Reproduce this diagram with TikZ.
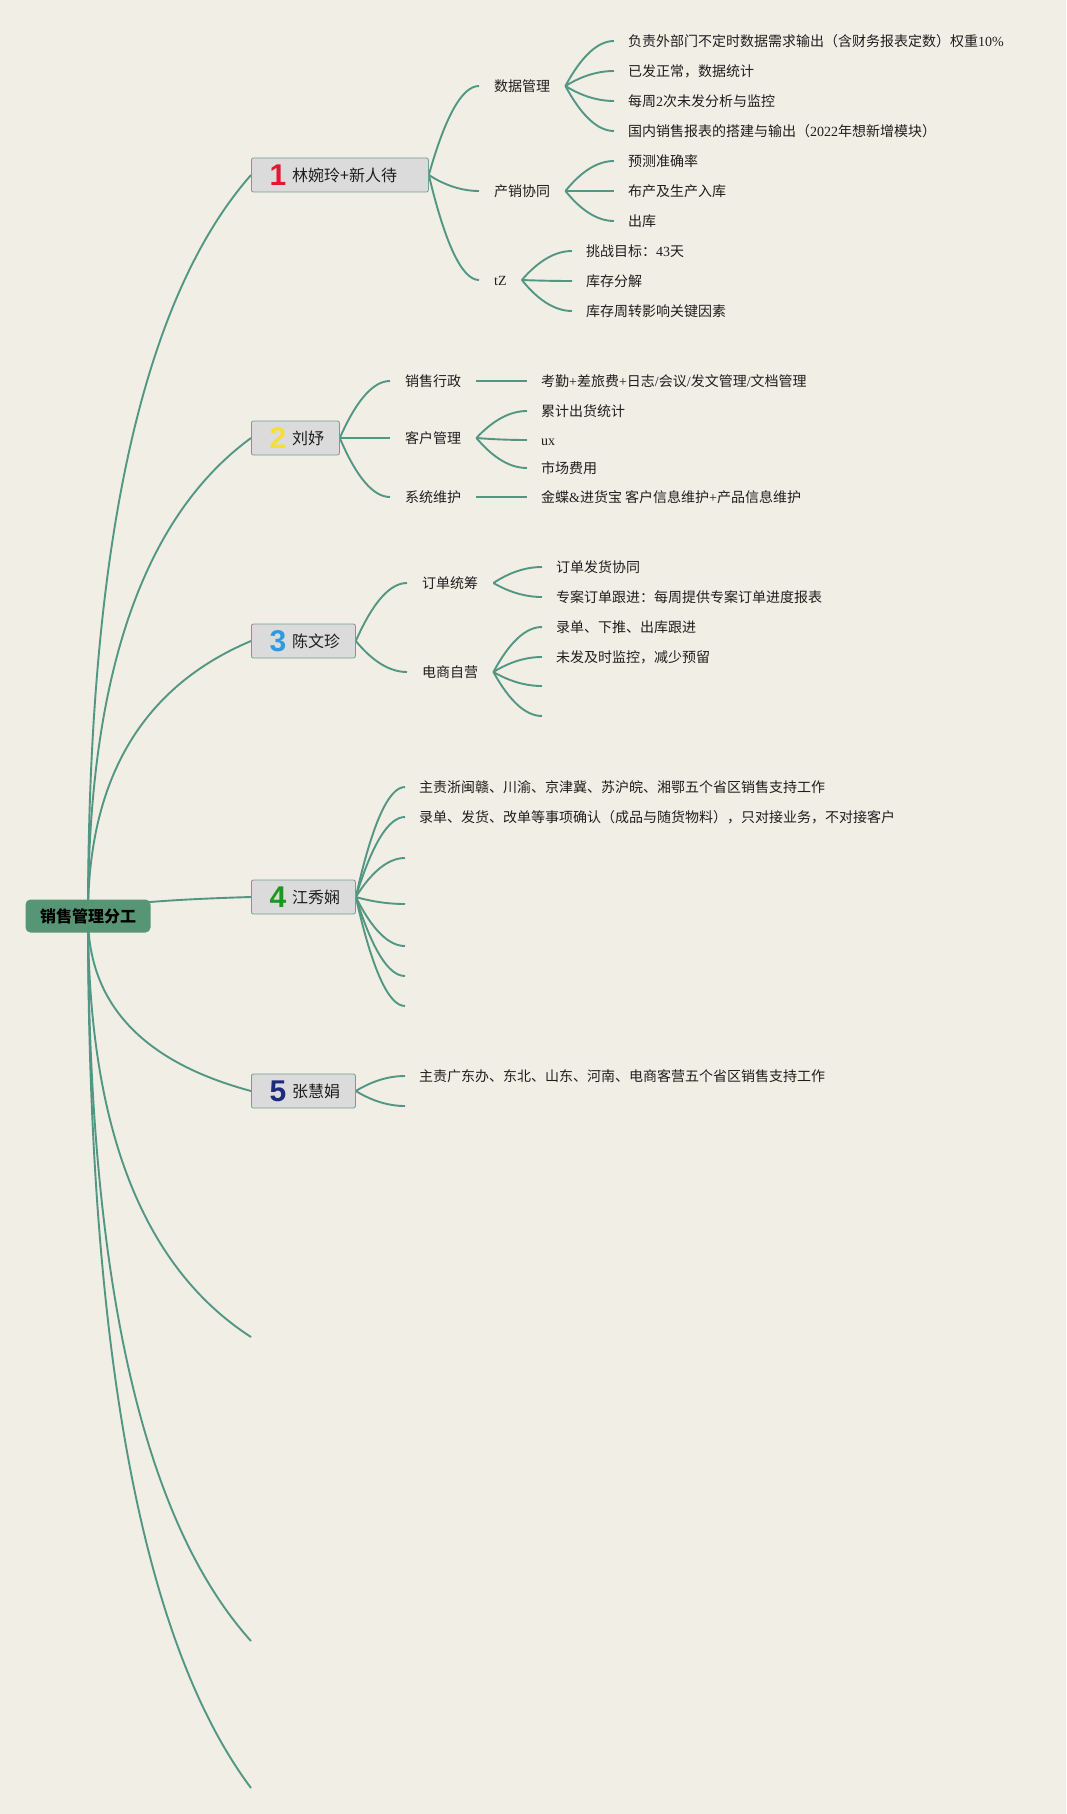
\documentclass[tikz,border=0pt]{standalone}
\usepackage{fontspec}
\setmainfont{Noto Sans CJK SC}
\newfontfamily\latf{Liberation Serif}
\newfontfamily\numff{Liberation Sans}
\usetikzlibrary{calc}
\definecolor{bgc}{RGB}{241,238,229}
\definecolor{lc}{RGB}{82,150,132}
\definecolor{rootc}{RGB}{86,150,116}
\definecolor{boxc}{RGB}{219,219,220}
\definecolor{boxb}{RGB}{112,160,144}
\definecolor{tc}{RGB}{30,30,30}
\definecolor{c1}{RGB}{226,24,48}
\definecolor{c2}{RGB}{244,222,62}
\definecolor{c3}{RGB}{45,155,224}
\definecolor{c4}{RGB}{28,152,34}
\definecolor{c5}{RGB}{30,42,126}
\pgfdeclarelayer{paper}
\pgfdeclarelayer{bg}
\pgfsetlayers{paper,bg,main}
\newcommand\lat[1]{{\latf #1}}
\newcommand\fs{\fontsize{14pt}{17pt}\selectfont}
\newcommand\fl{\fontsize{16pt}{19pt}\selectfont}
\newcommand\numfont{\numff\bfseries\fontsize{30pt}{30pt}\selectfont}
\newcommand\rbranch[2]{\draw[br] let \p1=(#1), \p2=(#2) in (\p1) .. controls (\x1,{\y1+0.5*(\y2-\y1)}) and ({\x2-0.667*(\x2-\x1)},{\y2+0.1667*(\y1-\y2)}) .. (\p2);}
\newcommand\sbranch[2]{\draw[br] let \p1=(#1), \p2=(#2) in (\p1) .. controls ({\x1+(\x2-\x1)/3},{\y1+0.667*(\y2-\y1)}) and ({\x2-(\x2-\x1)/3},\y2) .. (\p2);}
\tikzset{
  br/.style={draw=lc, line width=1.9pt},
  rootbox/.style={fill=rootc, rounded corners=5pt, minimum width=125pt, minimum height=33pt, inner sep=0pt, text=black, font=\fl\bfseries},
  lonebox/.style={fill=boxc, draw=boxb, line width=0.8pt, rounded corners=2pt, minimum height=34pt, inner sep=0pt, anchor=west},
  numtxt/.style={font=\numfont, inner sep=0pt},
  lonetxt/.style={font=\fl, text=tc, inner sep=0pt, anchor=west, text height=14pt, text depth=1.8pt},
  ltwo/.style={anchor=west, inner xsep=15pt, inner ysep=0pt, font=\fs, text=tc, text height=12.3pt, text depth=1.7pt},
  lthree/.style={anchor=west, inner xsep=14pt, inner ysep=0pt, font=\fs, text=tc, text height=12.3pt, text depth=1.7pt}
}
\begin{document}
\begin{tikzpicture}[x=1pt,y=-1pt]
\begin{pgfonlayer}{paper}
\fill[bgc] (0,0) rectangle (1066,1814);
\end{pgfonlayer}
\useasboundingbox (0,0) rectangle (1066,1814);
% root
\node[rootbox] (R) at (88,916) {销售管理分工};
% level 1
\node[lonebox, minimum width=177pt] (n1) at (251,175) {};
\node[numtxt, text=c1] (n1n) at (278,175) {1};
\node[lonetxt] (n1t) at (292,175) {林婉玲+新人待};
\node[lonebox, minimum width=88pt] (n2) at (251,438) {};
\node[numtxt, text=c2] (n2n) at (278,438) {2};
\node[lonetxt] (n2t) at (292,438) {刘妤};
\node[lonebox, minimum width=104pt] (n3) at (251,641) {};
\node[numtxt, text=c3] (n3n) at (278,641) {3};
\node[lonetxt] (n3t) at (292,641) {陈文珍};
\node[lonebox, minimum width=104pt] (n4) at (251,897) {};
\node[numtxt, text=c4] (n4n) at (278,897) {4};
\node[lonetxt] (n4t) at (292,897) {江秀娴};
\node[lonebox, minimum width=104pt] (n5) at (251,1091) {};
\node[numtxt, text=c5] (n5n) at (278,1091) {5};
\node[lonetxt] (n5t) at (292,1091) {张慧娟};
\coordinate (e1) at (251,1337);
\coordinate (e2) at (251,1641);
\coordinate (e3) at (251,1788);
% node 1 children
\node[ltwo] (dm) at (479,86) {数据管理};
\node[ltwo] (cx) at (479,191) {产销协同};
\node[ltwo] (tz) at (479,280) {\lat{tZ}};
\node[lthree] (d1) at (614,41) {负责外部门不定时数据需求输出（含财务报表定数）权重\lat{10\%}};
\node[lthree] (d2) at (614,71) {已发正常，数据统计};
\node[lthree] (d3) at (614,101) {每周\lat{2}次未发分析与监控};
\node[lthree] (d4) at (614,131) {国内销售报表的搭建与输出（\lat{2022}年想新增模块）};
\node[lthree] (c1n) at (614,161) {预测准确率};
\node[lthree] (c2n) at (614,191) {布产及生产入库};
\node[lthree] (c3n) at (614,221) {出库};
\node[lthree] (t1) at (572,251) {挑战目标：\lat{43}天};
\node[lthree] (t2) at (572,281) {库存分解};
\node[lthree] (t3) at (572,311) {库存周转影响关键因素};
% node 2 children
\node[ltwo] (xz) at (390,381) {销售行政};
\node[ltwo] (kh) at (390,438) {客户管理};
\node[ltwo] (xt) at (390,497) {系统维护};
\node[lthree] (xz1) at (527,381) {考勤\lat{+}差旅费\lat{+}日志\lat{/}会议\lat{/}发文管理\lat{/}文档管理};
\node[lthree] (kh1) at (527,411) {累计出货统计};
\node[lthree] (kh2) at (527,440) {\lat{ux}};
\node[lthree] (kh3) at (527,468) {市场费用};
\node[lthree] (xt1) at (527,497) {金蝶\lat{\&}进货宝 客户信息维护\lat{+}产品信息维护};
% node 3 children
\node[ltwo] (dd) at (407,583) {订单统筹};
\node[ltwo] (ds) at (407,672) {电商自营};
\node[lthree] (dd1) at (542,567) {订单发货协同};
\node[lthree] (dd2) at (542,597) {专案订单跟进：每周提供专案订单进度报表};
\node[lthree] (ds1) at (542,627) {录单、下推、出库跟进};
\node[lthree] (ds2) at (542,657) {未发及时监控，减少预留};
\coordinate (ds3) at (542,686);
\coordinate (ds4) at (542,716);
% node 4 children
\node[lthree] (j1) at (405,787) {主责浙闽赣、川渝、京津冀、苏沪皖、湘鄂五个省区销售支持工作};
\node[lthree] (j2) at (405,817) {录单、发货、改单等事项确认（成品与随货物料），只对接业务，不对接客户};
\coordinate (j3) at (405,858);
\coordinate (j4) at (405,904);
\coordinate (j5) at (405,946);
\coordinate (j6) at (405,976);
\coordinate (j7) at (405,1006);
% node 5 children
\node[lthree] (z1) at (405,1076) {主责广东办、东北、山东、河南、电商客营五个省区销售支持工作};
\coordinate (z2) at (405,1106);
\begin{pgfonlayer}{bg}
\rbranch{R.center}{n1.west}
\rbranch{R.center}{n2.west}
\rbranch{R.center}{n3.west}
\rbranch{R.center}{n4.west}
\rbranch{R.center}{n5.west}
\rbranch{R.center}{e1}
\rbranch{R.center}{e2}
\rbranch{R.center}{e3}
\sbranch{n1.east}{dm.west}
\sbranch{n1.east}{cx.west}
\sbranch{n1.east}{tz.west}
\sbranch{dm.east}{d1.west}
\sbranch{dm.east}{d2.west}
\sbranch{dm.east}{d3.west}
\sbranch{dm.east}{d4.west}
\sbranch{cx.east}{c1n.west}
\sbranch{cx.east}{c2n.west}
\sbranch{cx.east}{c3n.west}
\sbranch{tz.east}{t1.west}
\sbranch{tz.east}{t2.west}
\sbranch{tz.east}{t3.west}
\sbranch{n2.east}{xz.west}
\sbranch{n2.east}{kh.west}
\sbranch{n2.east}{xt.west}
\draw[br] (xz.east) -- (xz1.west);
\draw[br] (xt.east) -- (xt1.west);
\sbranch{kh.east}{kh1.west}
\sbranch{kh.east}{kh2.west}
\sbranch{kh.east}{kh3.west}
\sbranch{n3.east}{dd.west}
\sbranch{n3.east}{ds.west}
\sbranch{dd.east}{dd1.west}
\sbranch{dd.east}{dd2.west}
\sbranch{ds.east}{ds1.west}
\sbranch{ds.east}{ds2.west}
\sbranch{ds.east}{ds3}
\sbranch{ds.east}{ds4}
\sbranch{n4.east}{j1.west}
\sbranch{n4.east}{j2.west}
\sbranch{n4.east}{j3}
\sbranch{n4.east}{j4}
\sbranch{n4.east}{j5}
\sbranch{n4.east}{j6}
\sbranch{n4.east}{j7}
\sbranch{n5.east}{z1.west}
\sbranch{n5.east}{z2}
\end{pgfonlayer}
\end{tikzpicture}
\end{document}
